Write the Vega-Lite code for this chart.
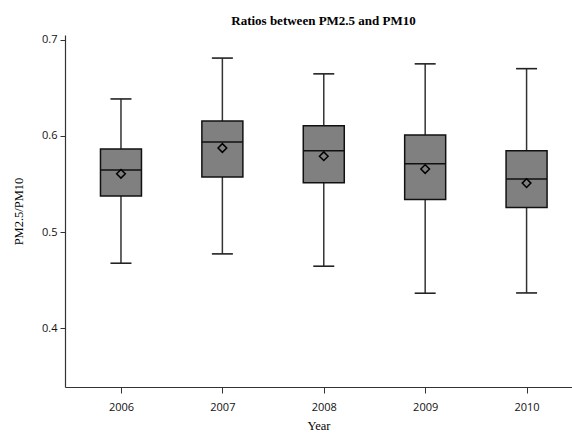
{
  "$schema": "https://vega.github.io/schema/vega-lite/v6.json",
  "autosize": "none",
  "width": 507,
  "height": 352,
  "padding": {"left": 65, "top": 35, "right": 0, "bottom": 46},
  "background": "white",
  "title": {
    "text": "Ratios between PM2.5 and PM10",
    "font": "Liberation Serif",
    "fontSize": 13,
    "fontWeight": "bold",
    "color": "#000000",
    "anchor": "middle",
    "dx": 5,
    "offset": 6
  },
  "data": {
    "values": [
      {"Year": "2006", "min": 0.4677, "q1": 0.5375, "median": 0.5646, "q3": 0.5865, "max": 0.6385, "mean": 0.5607},
      {"Year": "2007", "min": 0.4774, "q1": 0.5573, "median": 0.5937, "q3": 0.6156, "max": 0.681, "mean": 0.5875},
      {"Year": "2008", "min": 0.4646, "q1": 0.5514, "median": 0.5847, "q3": 0.6107, "max": 0.6646, "mean": 0.579},
      {"Year": "2009", "min": 0.4365, "q1": 0.534, "median": 0.5711, "q3": 0.601, "max": 0.675, "mean": 0.5656},
      {"Year": "2010", "min": 0.4368, "q1": 0.5257, "median": 0.5552, "q3": 0.5847, "max": 0.670, "mean": 0.551}
    ]
  },
  "encoding": {
    "x": {
      "field": "Year",
      "type": "ordinal",
      "scale": {"type": "point", "padding": 0.5, "align": 0.552},
      "axis": {
        "title": "Year",
        "titleFont": "Liberation Serif",
        "titleFontSize": 12.5,
        "titleFontWeight": "normal",
        "titleColor": "#000000",
        "titlePadding": 7,
        "labelFont": "Open Sans",
        "labelFontSize": 11,
        "labelColor": "#111111",
        "labelAngle": 0,
        "labelPadding": 8,
        "tickSize": 6,
        "tickColor": "#333333",
        "domainColor": "#333333",
        "domainWidth": 1.2,
        "grid": false
      }
    }
  },
  "layer": [
    {
      "mark": {"type": "rule", "color": "#333333", "strokeWidth": 1.5},
      "encoding": {
        "y": {
          "field": "min",
          "type": "quantitative",
          "scale": {"domain": [0.339, 0.705], "nice": false, "zero": false},
          "axis": {
            "title": "PM2.5/PM10",
            "values": [0.4, 0.5, 0.6, 0.7],
            "format": ".1f",
            "titleFont": "Liberation Serif",
            "titleFontSize": 12.5,
            "titleFontWeight": "normal",
            "titleColor": "#000000",
            "titlePadding": 16,
            "labelFont": "Open Sans",
            "labelFontSize": 11,
            "labelColor": "#111111",
            "labelPadding": 3,
            "tickSize": 5,
            "tickColor": "#333333",
            "domainColor": "#333333",
            "domainWidth": 1.2,
            "grid": false
          }
        },
        "y2": {"field": "max"}
      }
    },
    {
      "mark": {"type": "tick", "color": "#222222", "size": 21, "thickness": 1.6, "opacity": 1},
      "encoding": {"y": {"field": "min", "type": "quantitative"}}
    },
    {
      "mark": {"type": "tick", "color": "#222222", "size": 21, "thickness": 1.6, "opacity": 1},
      "encoding": {"y": {"field": "max", "type": "quantitative"}}
    },
    {
      "mark": {"type": "bar", "size": 41, "fill": "#808080", "stroke": "#111111", "strokeWidth": 1.5, "opacity": 1},
      "encoding": {
        "y": {"field": "q1", "type": "quantitative"},
        "y2": {"field": "q3"}
      }
    },
    {
      "mark": {"type": "tick", "color": "#111111", "size": 41, "thickness": 1.5, "opacity": 1},
      "encoding": {"y": {"field": "median", "type": "quantitative"}}
    },
    {
      "mark": {"type": "point", "shape": "diamond", "filled": false, "stroke": "#000000", "strokeWidth": 1.5, "size": 75, "opacity": 1},
      "encoding": {"y": {"field": "mean", "type": "quantitative"}}
    }
  ],
  "config": {
    "view": {"stroke": null}
  }
}
